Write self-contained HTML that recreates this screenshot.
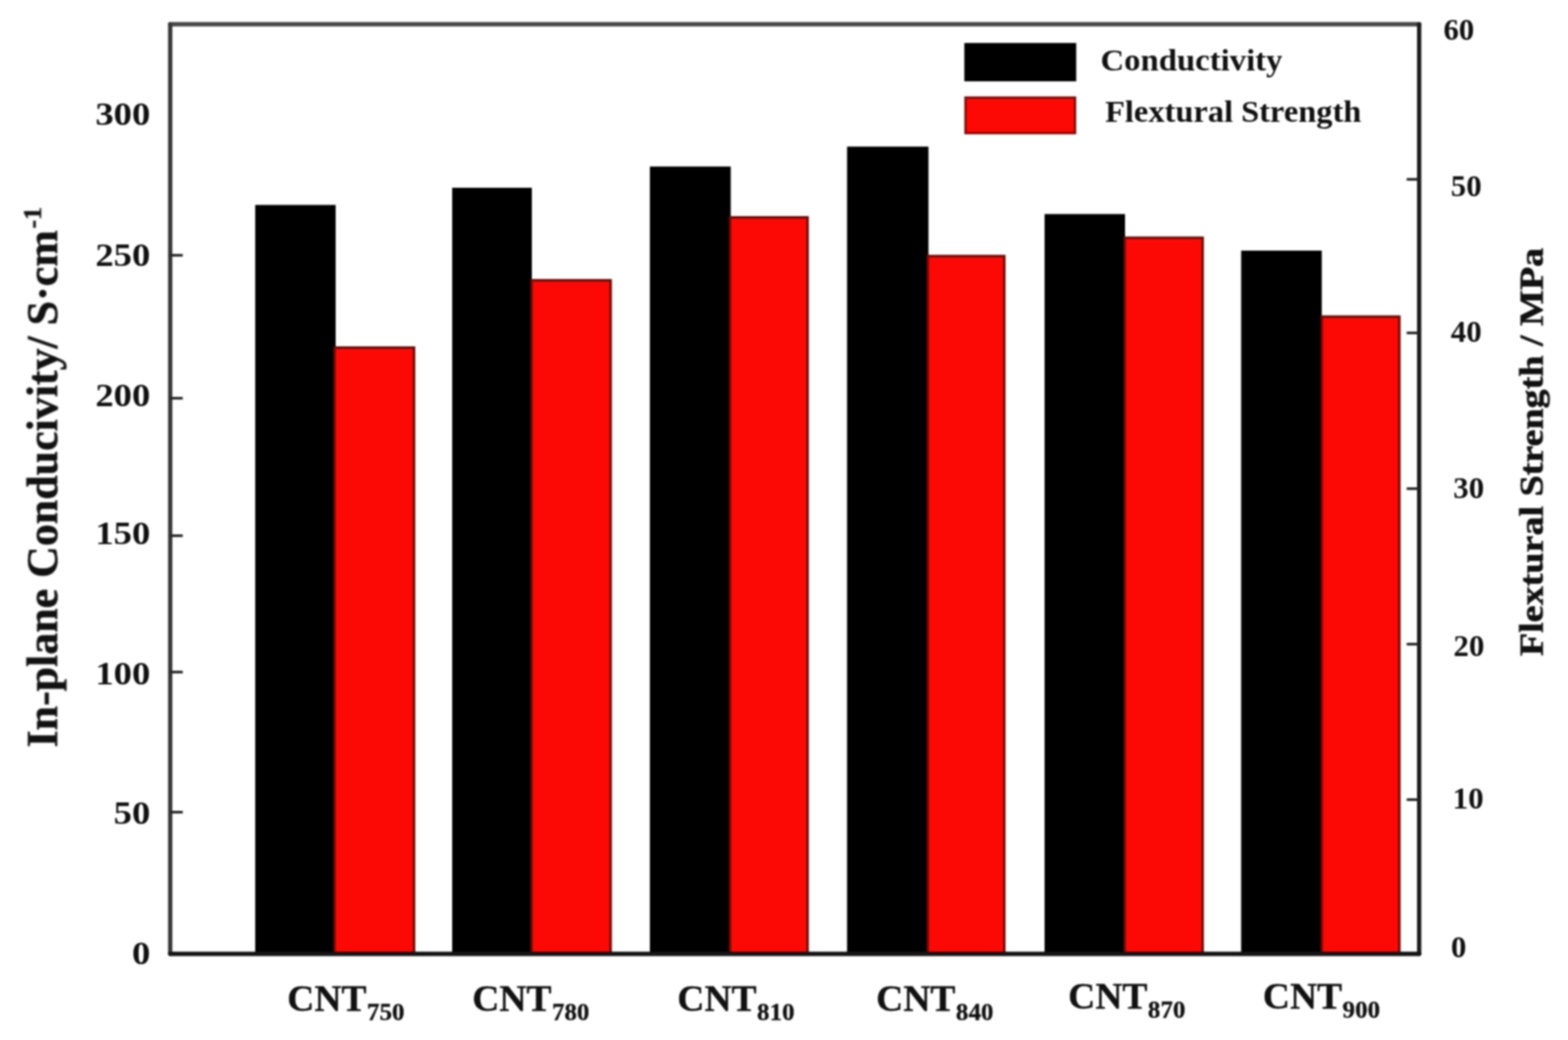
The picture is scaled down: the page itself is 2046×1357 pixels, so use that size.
<!DOCTYPE html>
<html lang="en">
<head>
<meta charset="utf-8">
<title>In-plane conductivity and flexural strength of CNT samples</title>
<style>
html,body{margin:0;padding:0;background:#fff;}
body{width:2046px;height:1357px;overflow:hidden;}
svg{display:block;}
text{font-family:"Liberation Serif","DejaVu Serif",serif;font-weight:bold;fill:#111;}
.tl{font-size:41.5px;}
.tr{font-size:40.3px;}
.axl{font-size:57.3px;stroke:#111;stroke-width:0.6px;}
.axr{font-size:49.65px;stroke:#111;stroke-width:0.8px;}
.lg{font-size:40.1px;}
.xl{font-size:49px;stroke:#111;stroke-width:0.4px;}
.sub{font-size:32.6px;}
.sup{font-size:34px;}
</style>
</head>
<body>
<svg width="2046" height="1357" viewBox="0 0 2046 1357">
<defs><filter id="soft" x="-2%" y="-2%" width="104%" height="104%" color-interpolation-filters="sRGB"><feGaussianBlur stdDeviation="0.85"/></filter></defs>
<rect x="0" y="0" width="2046" height="1357" fill="#ffffff"/>
<g filter="url(#soft)">
<g id="bars">
<rect x="333.0" y="267.4" width="105.0" height="977.2" fill="#000000"/>
<rect x="590.0" y="245.0" width="104.0" height="999.6" fill="#000000"/>
<rect x="848.0" y="217.3" width="105.5" height="1027.3" fill="#000000"/>
<rect x="1105.3" y="191.3" width="106.2" height="1053.3" fill="#000000"/>
<rect x="1363.0" y="279.3" width="105.0" height="965.3" fill="#000000"/>
<rect x="1619.5" y="327.0" width="105.2" height="917.6" fill="#000000"/>
<rect x="436.6" y="453.5" width="103.7" height="791.1" fill="#fd0905" stroke="#6e0a06" stroke-width="3.2"/>
<rect x="693.6" y="365.7" width="103.2" height="878.9" fill="#fd0905" stroke="#6e0a06" stroke-width="3.2"/>
<rect x="952.6" y="283.6" width="101.2" height="961.0" fill="#fd0905" stroke="#6e0a06" stroke-width="3.2"/>
<rect x="1210.6" y="334.1" width="99.9" height="910.5" fill="#fd0905" stroke="#6e0a06" stroke-width="3.2"/>
<rect x="1467.6" y="310.2" width="101.7" height="934.4" fill="#fd0905" stroke="#6e0a06" stroke-width="3.2"/>
<rect x="1724.6" y="413.1" width="101.4" height="831.5" fill="#fd0905" stroke="#6e0a06" stroke-width="3.2"/>
</g>
<g id="frame" fill="none" stroke-width="5.6" stroke-linecap="round">
<line x1="222.1" y1="31.6" x2="1851.8" y2="31.6" stroke="#484848"/>
<line x1="222.1" y1="31.6" x2="222.1" y2="1244.6" stroke="#383838"/>
<line x1="1851.8" y1="31.6" x2="1851.8" y2="1244.6" stroke="#1c1c1c"/>
<line x1="222.1" y1="1244.6" x2="1851.8" y2="1244.6" stroke="#141414"/>
</g>
<g id="ticks" stroke="#222" stroke-width="3.4">
<line x1="222.1" y1="333.1" x2="238.5" y2="333.1"/>
<line x1="222.1" y1="519.6" x2="238.5" y2="519.6"/>
<line x1="222.1" y1="699.0" x2="238.5" y2="699.0"/>
<line x1="222.1" y1="876.9" x2="238.5" y2="876.9"/>
<line x1="222.1" y1="1059.7" x2="238.5" y2="1059.7"/>
<line x1="1835.5" y1="234.0" x2="1851.8" y2="234.0"/>
<line x1="1835.5" y1="434.4" x2="1851.8" y2="434.4"/>
<line x1="1835.5" y1="637.6" x2="1851.8" y2="637.6"/>
<line x1="1835.5" y1="840.5" x2="1851.8" y2="840.5"/>
<line x1="1835.5" y1="1043.4" x2="1851.8" y2="1043.4"/>
</g>
<g id="legend">
<rect x="1258.3" y="56.1" width="146" height="50" fill="#000"/>
<rect x="1259.8" y="127.3" width="143" height="46.4" fill="#fd0905" stroke="#7e0a06" stroke-width="3"/>
<text class="lg" transform="translate(1435.9,92.2) scale(1.066,1)">Conductivity</text>
<text class="lg" transform="translate(1442.0,158.5) scale(1.056,1)">Flextural Strength</text>
</g>
<g id="left-ticks" text-anchor="end">
<text class="tl" transform="translate(196.0,163.0) scale(1.150,1)">300</text>
<text class="tl" transform="translate(196.0,347.4) scale(1.150,1)">250</text>
<text class="tl" transform="translate(196.0,530.0) scale(1.150,1)">200</text>
<text class="tl" transform="translate(196.0,709.8) scale(1.150,1)">150</text>
<text class="tl" transform="translate(196.0,893.1) scale(1.150,1)">100</text>
<text class="tl" transform="translate(196.0,1075.0) scale(1.150,1)">50</text>
<text class="tl" transform="translate(196.0,1258.4) scale(1.150,1)">0</text>
</g>
<g id="right-ticks">
<text class="tr" x="1883.4" y="51.5">60</text>
<text class="tr" x="1893.1" y="256.4">50</text>
<text class="tr" x="1893.1" y="446.4">40</text>
<text class="tr" x="1896.3" y="649.6">30</text>
<text class="tr" x="1896.6" y="856.1">20</text>
<text class="tr" x="1895.5" y="1055.0">10</text>
<text class="tr" x="1893.3" y="1249.4">0</text>
</g>
<g id="x-labels">
<text class="xl" x="374.8" y="1318.9">CNT<tspan class="sub" dx="0.6" dy="12.3">750</tspan></text>
<text class="xl" x="616.2" y="1318.9">CNT<tspan class="sub" dx="0.6" dy="12.3">780</tspan></text>
<text class="xl" x="883.8" y="1318.9">CNT<tspan class="sub" dx="0.6" dy="12.3">810</tspan></text>
<text class="xl" x="1143.3" y="1318.9">CNT<tspan class="sub" dx="0.6" dy="12.3">840</tspan></text>
<text class="xl" x="1393.8" y="1316.0">CNT<tspan class="sub" dx="0.6" dy="12.3">870</tspan></text>
<text class="xl" x="1647.8" y="1316.0">CNT<tspan class="sub" dx="0.6" dy="12.3">900</tspan></text>
</g>
<text class="axl" transform="translate(74.5,975.3) rotate(-90)">In-plane Conducivity/ S·cm<tspan class="sup" dx="2" dy="-20.6">-1</tspan></text>
<text class="axr" transform="translate(2013.4,856) rotate(-90) scale(1,0.875)">Flextural Strength / MPa</text>
</g>
</svg>
</body>
</html>
